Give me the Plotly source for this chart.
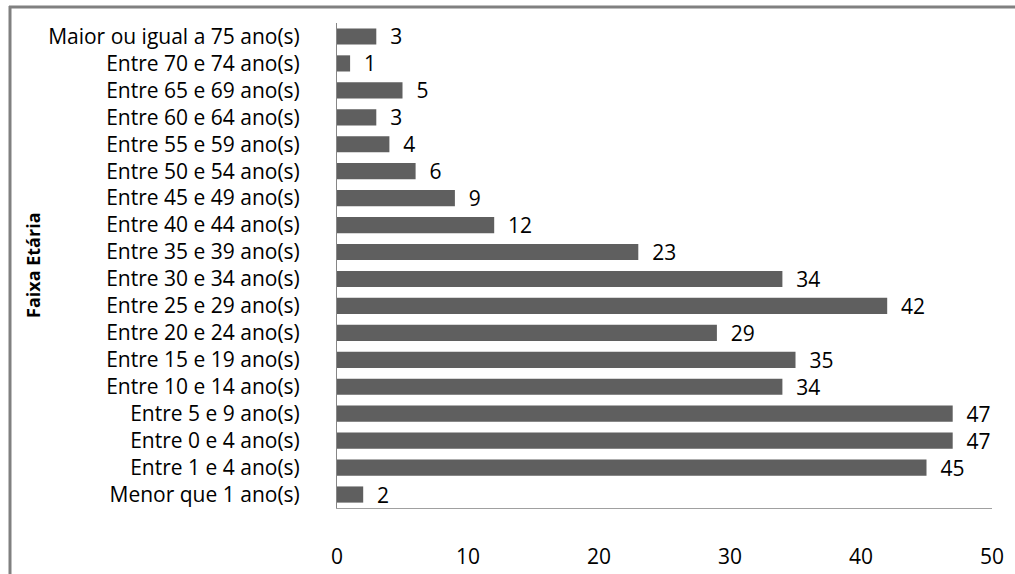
import plotly.graph_objects as go

categories = [
    "Menor que 1 ano(s)", "Entre 1 e 4 ano(s)", "Entre 0 e 4 ano(s)", "Entre 5 e 9 ano(s)",
    "Entre 10 e 14 ano(s)", "Entre 15 e 19 ano(s)", "Entre 20 e 24 ano(s)", "Entre 25 e 29 ano(s)",
    "Entre 30 e 34 ano(s)", "Entre 35 e 39 ano(s)", "Entre 40 e 44 ano(s)", "Entre 45 e 49 ano(s)",
    "Entre 50 e 54 ano(s)", "Entre 55 e 59 ano(s)", "Entre 60 e 64 ano(s)", "Entre 65 e 69 ano(s)",
    "Entre 70 e 74 ano(s)", "Maior ou igual a 75 ano(s)",
]
values = [2, 45, 47, 47, 34, 35, 29, 42, 34, 23, 12, 9, 6, 4, 3, 5, 1, 3]
x_ticks = [0, 10, 20, 30, 40, 50]

FONT = "Open Sans"
FS = 21
W, H = 1015, 574
L, R, T, B = 337, 23, 23, 66
pw, ph = W - L - R, H - T - B

fig = go.Figure(go.Bar(
    y=categories, x=values, orientation="h",
    marker=dict(color="#5f5f5f", line=dict(width=0)),
    text=[f"\u00a0\u00a0{v}" for v in values],
    textposition="outside", cliponaxis=False, constraintext="none",
    textfont=dict(family=FONT, size=FS, color="#000000"),
    width=0.6,
))

def px_x(px):
    return (px - L) / pw

def px_y(py):
    return (H - B - py) / ph

fig.update_layout(
    width=W, height=H,
    margin=dict(l=L, r=R, t=T, b=B, autoexpand=False),
    plot_bgcolor="white", paper_bgcolor="white",
    showlegend=False,
    font=dict(family=FONT, size=FS, color="#000000"),
    xaxis=dict(range=[0, 50], tickvals=x_ticks, showgrid=False, zeroline=False,
               showline=True, linecolor="#a0a0a0", linewidth=1,
               ticks="", ticklabelstandoff=30,
               tickfont=dict(family=FONT, size=FS, color="#000000")),
    yaxis=dict(categoryorder="array", categoryarray=categories, showgrid=False,
               showline=True, linecolor="#868686", linewidth=1,
               ticks="", ticklabelstandoff=32,
               tickfont=dict(family=FONT, size=FS, color="#000000")),
    annotations=[
        dict(text="<b>Faixa Etária</b>", xref="paper", yref="paper",
             x=px_x(33), y=px_y(265), textangle=-90, showarrow=False,
             xanchor="center", yanchor="middle",
             font=dict(family=FONT, size=18, color="#000000")),
    ],
    shapes=[
        dict(type="line", xref="paper", yref="paper", x0=px_x(9), x1=px_x(W + 5),
             y0=px_y(7), y1=px_y(7), line=dict(color="#808080", width=3)),
        dict(type="line", xref="paper", yref="paper", x0=px_x(10), x1=px_x(10),
             y0=px_y(6), y1=px_y(H + 5), line=dict(color="#808080", width=3)),
    ],
)

fig.write_html("out.html", config={"displayModeBar": False},
               post_script="document.body.style.margin='0';document.body.style.overflow='hidden';")
